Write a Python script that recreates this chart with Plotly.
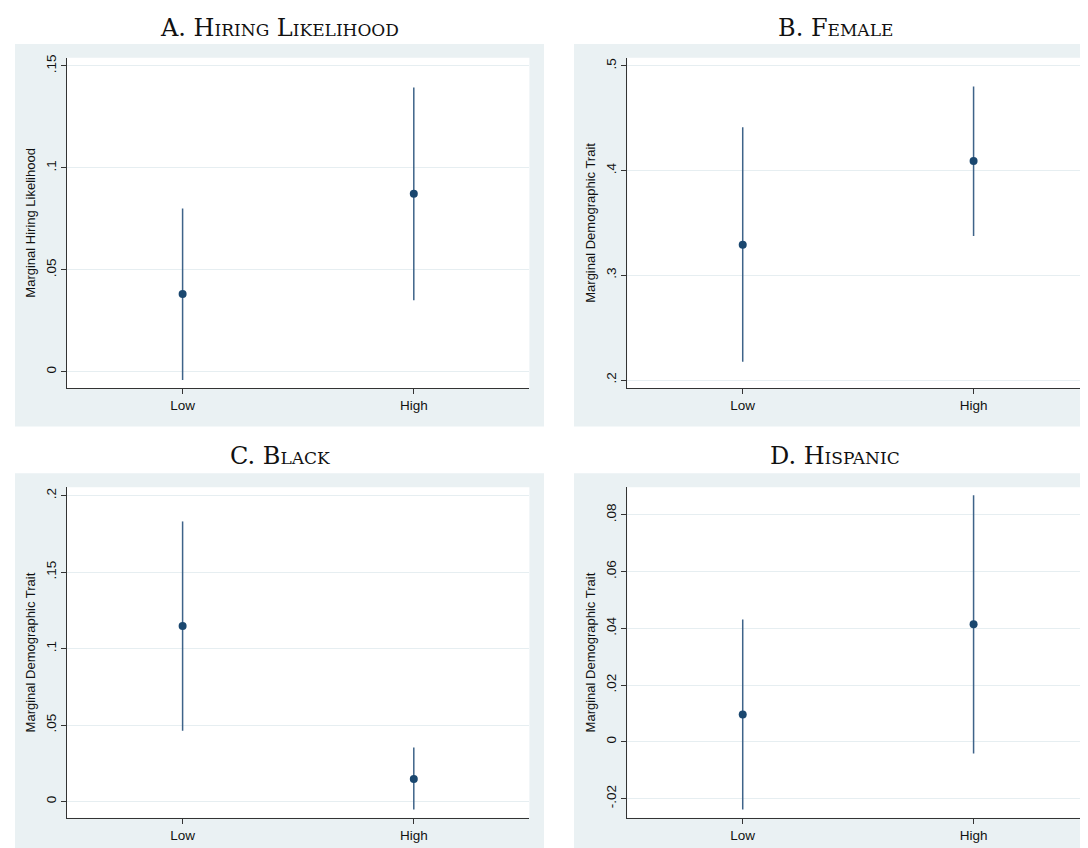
import plotly.graph_objects as go

# categories shared by all four panels
categories = ["Low", "High"]

# A. hiring likelihood
hiring_est = [0.0381, 0.0873]
hiring_lo = [-0.0041, 0.0351]
hiring_hi = [0.0801, 0.1394]

# B. female
female_est = [0.3292, 0.4092]
female_lo = [0.2174, 0.3374]
female_hi = [0.4413, 0.4803]

# C. black
black_est = [0.1147, 0.0148]
black_lo = [0.0463, -0.0052]
black_hi = [0.1831, 0.0354]

# D. hispanic
hisp_est = [0.0096, 0.0414]
hisp_lo = [-0.0239, -0.0041]
hisp_hi = [0.0431, 0.0869]

# y ticks
hiring_ticks = [0, 0.05, 0.1, 0.15]
hiring_ticktext = ["0", ".05", ".1", ".15"]
female_ticks = [0.2, 0.3, 0.4, 0.5]
female_ticktext = [".2", ".3", ".4", ".5"]
black_ticks = [0, 0.05, 0.1, 0.15, 0.2]
black_ticktext = ["0", ".05", ".1", ".15", ".2"]
hisp_ticks = [-0.02, 0, 0.02, 0.04, 0.06, 0.08]
hisp_ticktext = ["-.02", "0", ".02", ".04", ".06", ".08"]

W, H = 1088, 848
BG = "#EAF1F3"
NAVY = "#1A476F"
CI = "#3E6389"


def px(x):
    return x / W


def py(y):
    return 1 - y / H


panels = [
    dict(title="A. Hiring Likelihood", ytitle="Marginal Hiring Likelihood",
         est=hiring_est, lo=hiring_lo, hi=hiring_hi, ticks=hiring_ticks,
         ticktext=hiring_ticktext, yrange=[-0.008, 0.154],
         box=(7, 536, 33, 417), plot=(59, 521.4, 47, 378.3), ttl_y=17),
    dict(title="B. Female", ytitle="Marginal Demographic Trait",
         est=female_est, lo=female_lo, hi=female_hi, ticks=female_ticks,
         ticktext=female_ticktext, yrange=[0.1924, 0.5076],
         box=(566, 1088, 33, 417), plot=(619.3, 1081, 47, 378.3), ttl_y=17),
    dict(title="C. Black", ytitle="Marginal Demographic Trait",
         est=black_est, lo=black_lo, hi=black_hi, ticks=black_ticks,
         ticktext=black_ticktext, yrange=[-0.0106, 0.2054],
         box=(7, 536, 464, 847), plot=(59, 521.4, 478, 809.7), ttl_y=447),
    dict(title="D. Hispanic", ytitle="Marginal Demographic Trait",
         est=hisp_est, lo=hisp_lo, hi=hisp_hi, ticks=hisp_ticks,
         ticktext=hisp_ticktext, yrange=[-0.0268, 0.0897],
         box=(566, 1088, 464, 847), plot=(619.3, 1081, 478, 809.7), ttl_y=447),
]

fig = go.Figure()
shapes = []
annotations = []
layout = {}

for i, p in enumerate(panels):
    n = "" if i == 0 else str(i + 1)
    x0, x1, y0, y1 = p["box"]
    ax0, ax1, ay0, ay1 = p["plot"]
    # gray graph region, then the white plot region on top of it
    shapes.append(dict(type="rect", xref="paper", yref="paper",
                       x0=px(x0), x1=px(x1), y0=py(y1), y1=py(y0),
                       fillcolor=BG, line=dict(width=0), layer="below"))
    shapes.append(dict(type="rect", xref="paper", yref="paper",
                       x0=px(ax0), x1=px(ax1), y0=py(ay1), y1=py(ay0),
                       fillcolor="white", line=dict(width=0), layer="below"))
    annotations.append(dict(text=p["title"], xref="paper", yref="paper",
                            x=px((x0 + x1) / 2), y=py(p["ttl_y"]),
                            xanchor="center", yanchor="middle", showarrow=False,
                            font=dict(family="DejaVu Serif", size=24,
                                      color="#111111", variant="small-caps")))
    fig.add_trace(go.Scatter(
        x=categories, y=p["est"], mode="markers",
        marker=dict(color=NAVY, size=8),
        error_y=dict(type="data", symmetric=False,
                     array=[h - e for h, e in zip(p["hi"], p["est"])],
                     arrayminus=[e - l for e, l in zip(p["est"], p["lo"])],
                     color=CI, thickness=1.5, width=0),
        xaxis="x" + n, yaxis="y" + n, showlegend=False))
    layout["xaxis" + n] = dict(
        domain=[px(ax0), px(ax1)], anchor="y" + n, range=[-0.5, 1.5],
        showline=True, linecolor="#333333", linewidth=1, ticks="outside",
        ticklen=5, tickcolor="#333333", showgrid=False, zeroline=False,
        tickfont=dict(family="Liberation Sans", size=13.5, color="#111111"))
    layout["yaxis" + n] = dict(
        domain=[py(ay1), py(ay0)], anchor="x" + n, range=p["yrange"],
        tickvals=p["ticks"], ticktext=p["ticktext"], tickangle=-90,
        showline=True, linecolor="#333333", linewidth=1, ticks="outside",
        ticklen=5, tickcolor="#333333", showgrid=True, gridcolor="#E6EEF1",
        gridwidth=1, zeroline=False,
        tickfont=dict(family="Liberation Sans", size=13.5, color="#111111"),
        title=dict(text=p["ytitle"], standoff=5,
                   font=dict(family="Liberation Sans", size=13, color="#111111")))

fig.update_layout(
    width=W, height=H, margin=dict(l=0, r=0, t=0, b=0),
    paper_bgcolor="white", plot_bgcolor="white",
    shapes=shapes, annotations=annotations, **layout)

fig.write_html("out.html")
